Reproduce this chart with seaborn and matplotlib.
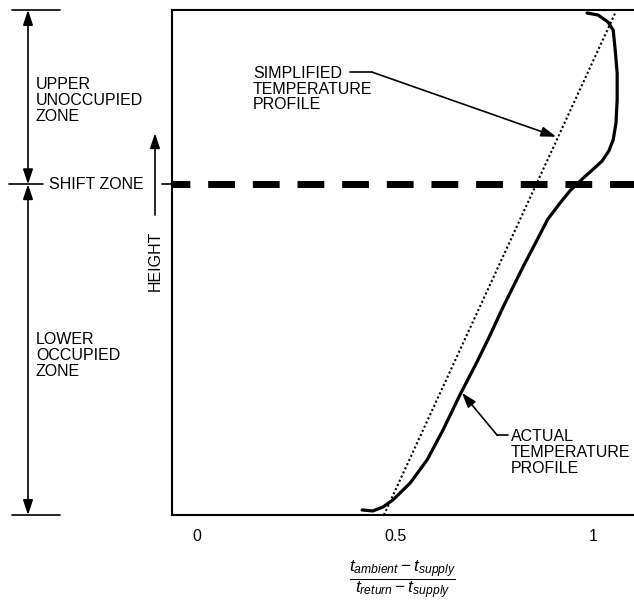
import numpy as np
import pandas as pd
import matplotlib
matplotlib.use("Agg")
import matplotlib.pyplot as plt
import seaborn as sns

# ---------------------------------------------------------------
# data: x = (t_ambient - t_supply)/(t_return - t_supply), y = relative height
# ---------------------------------------------------------------
simple_x = [0.472, 1.056]
simple_y = [0.0, 0.994]

actual_x = [0.417, 0.444, 0.470, 0.495, 0.538, 0.581, 0.621, 0.664, 0.707,
            0.740, 0.773, 0.823, 0.859, 0.886, 0.917, 0.942, 0.975, 0.998,
            1.023, 1.040, 1.051, 1.058, 1.061, 1.061, 1.056, 1.051, 1.038,
            1.013, 0.985]
actual_y = [0.010, 0.008, 0.016, 0.030, 0.063, 0.109, 0.168, 0.238, 0.303,
            0.356, 0.412, 0.491, 0.545, 0.586, 0.618, 0.642, 0.667, 0.683,
            0.701, 0.721, 0.743, 0.776, 0.822, 0.875, 0.921, 0.960, 0.976,
            0.990, 0.994]

shift_y = 0.655
tick_vals = [0, 0.5, 1]
tick_labels = ["0", "0.5", "1"]

simple_df = pd.DataFrame({"x": simple_x, "y": simple_y})
actual_df = pd.DataFrame({"x": actual_x, "y": actual_y})

# ---------------------------------------------------------------
# style
# ---------------------------------------------------------------
sns.set_theme(style="white")
plt.rcParams["font.family"] = ["Liberation Sans", "DejaVu Sans"]
plt.rcParams["text.color"] = "black"
plt.rcParams["mathtext.fontset"] = "custom"
plt.rcParams["mathtext.rm"] = "Liberation Sans"
plt.rcParams["mathtext.it"] = "Liberation Sans:italic"
plt.rcParams["mathtext.sf"] = "Liberation Sans"

FS = 11.5
LS = 1.08

fig = plt.figure(figsize=(6.34, 6.0), dpi=100)
ax = fig.add_axes([172 / 634, 85 / 600, 462 / 634, 505 / 600])

# profiles
sns.lineplot(data=simple_df, x="x", y="y", ax=ax, sort=False, estimator=None,
             color="black", lw=1.5, linestyle=(0, (1, 1.2)),
             dash_capstyle="butt")
sns.lineplot(data=actual_df, x="x", y="y", ax=ax, sort=False, estimator=None,
             color="black", lw=2.3)

# shift zone dashed line
ax.axhline(shift_y, color="black", lw=5.0, linestyle=(1.29, (3.86, 2.57)),
           dash_capstyle="butt", clip_on=False)

# ---------------------------------------------------------------
# labels inside the plot
# ---------------------------------------------------------------
arrow_kw = dict(arrowstyle="-|>,head_length=0.9,head_width=0.3",
                color="black", lw=1.2, shrinkA=0, shrinkB=0,
                mutation_scale=10)

ax.text(0.141, 0.890, "SIMPLIFIED\nTEMPERATURE\nPROFILE", ha="left", va="top",
        fontsize=FS, linespacing=LS)
ax.plot([0.386, 0.442], [0.877, 0.877], color="black", lw=1.2)
ax.annotate("", xy=(0.907, 0.749), xytext=(0.442, 0.877), arrowprops=arrow_kw)

ax.text(0.793, 0.171, "ACTUAL\nTEMPERATURE\nPROFILE", ha="left", va="top",
        fontsize=FS, linespacing=LS)
ax.plot([0.785, 0.758], [0.158, 0.158], color="black", lw=1.2)
ax.annotate("", xy=(0.669, 0.242), xytext=(0.758, 0.158), arrowprops=arrow_kw)

# ---------------------------------------------------------------
# zone markers left of the axes (x in axes fraction, y in data)
# ---------------------------------------------------------------
trans = ax.get_yaxis_transform()
xa = -0.3117
dbl_kw = dict(arrow_kw, arrowstyle="<|-|>,head_length=0.9,head_width=0.3")

for yy in [0, 1]:
    ax.plot([-0.3463, -0.2424], [yy, yy], color="black", lw=1.2,
            transform=trans, clip_on=False)
ax.plot([-0.3528, -0.2792], [shift_y, shift_y], color="black", lw=1.2,
        transform=trans, clip_on=False)
ax.plot([-0.0216, 0], [shift_y, shift_y], color="black", lw=1.2,
        transform=trans, clip_on=False)

ax.annotate("", xy=(xa, 1), xytext=(xa, shift_y), xycoords=trans,
            textcoords=trans, arrowprops=dbl_kw, annotation_clip=False)
ax.annotate("", xy=(xa, shift_y), xytext=(xa, 0), xycoords=trans,
            textcoords=trans, arrowprops=dbl_kw, annotation_clip=False)

ax.text(-0.2944, 0.868, "UPPER\nUNOCCUPIED\nZONE", transform=trans,
        ha="left", va="top", fontsize=FS, linespacing=LS)
ax.text(-0.2662, shift_y, "SHIFT ZONE", transform=trans,
        ha="left", va="center", fontsize=FS)
ax.text(-0.2944, 0.363, "LOWER\nOCCUPIED\nZONE", transform=trans,
        ha="left", va="top", fontsize=FS, linespacing=LS)

# height arrow
ax.annotate("", xy=(-0.0368, 0.756), xytext=(-0.0368, 0.594), xycoords=trans,
            textcoords=trans, arrowprops=arrow_kw, annotation_clip=False)
ax.text(-0.0368, 0.503, "HEIGHT", transform=trans, rotation=90,
        ha="center", va="center", fontsize=FS)

# ---------------------------------------------------------------
# axes
# ---------------------------------------------------------------
ax.set_xlim(-0.0631, 1.1035)
ax.set_ylim(0, 1)
ax.set_xticks(tick_vals, tick_labels)
ax.set_yticks([])
ax.tick_params(axis="x", length=0, pad=10, labelsize=FS, colors="black")
ax.set_xlabel(r"$\dfrac{t_{ambient} - t_{supply}}{t_{return} - t_{supply}}$",
              fontsize=12.5, labelpad=10, color="black")
ax.set_ylabel("")

ax.spines["right"].set_visible(False)
for s in ["left", "top", "bottom"]:
    ax.spines[s].set_color("black")
    ax.spines[s].set_linewidth(1.5)

fig.savefig("out.png", dpi=100)
